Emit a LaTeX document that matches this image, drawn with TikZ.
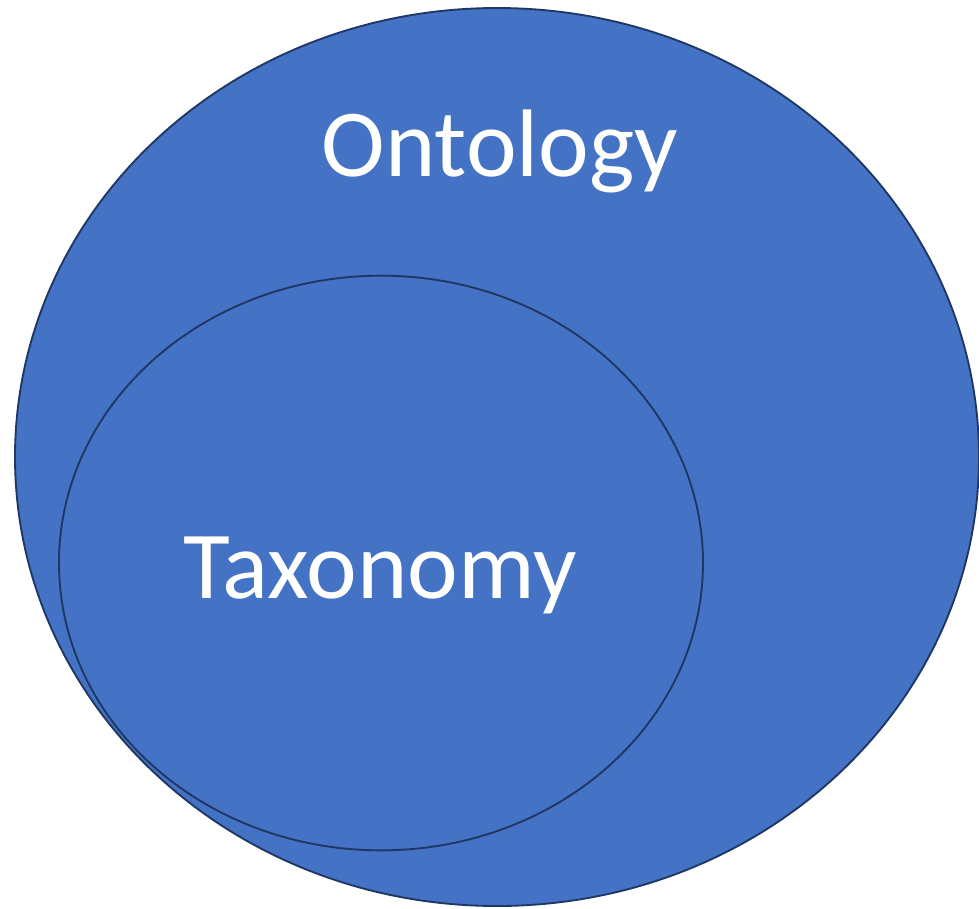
\documentclass[tikz,border=0pt]{standalone}
\usepackage{fontspec}
\setmainfont{Carlito}
\usepackage{tikz}
\usetikzlibrary{shapes.geometric}
\definecolor{setblue}{HTML}{4472C4}
\definecolor{setline}{HTML}{1F3763}

\begin{document}
\begin{tikzpicture}[x=0.75pt,y=-0.75pt,semithick]
\tikzstyle{set}=[ellipse,draw=setline,fill=setblue,line width=1.4pt,inner sep=0pt]
\tikzstyle{setlabel}=[text=white,font=\fontsize{72}{86}\selectfont,anchor=base,inner sep=0pt]
\useasboundingbox (0,0) rectangle (979,908);
\node[set,minimum width=723pt,minimum height=673.5pt] (onto) at (497,457) {};
\node[set,minimum width=483pt,minimum height=431pt] (taxo) at (381,563) {};
\node[setlabel] (ontolabel) at (500,176) {Ontology};
\node[setlabel] (taxolabel) at (380,598) {Taxonomy};
\end{tikzpicture}
\end{document}
